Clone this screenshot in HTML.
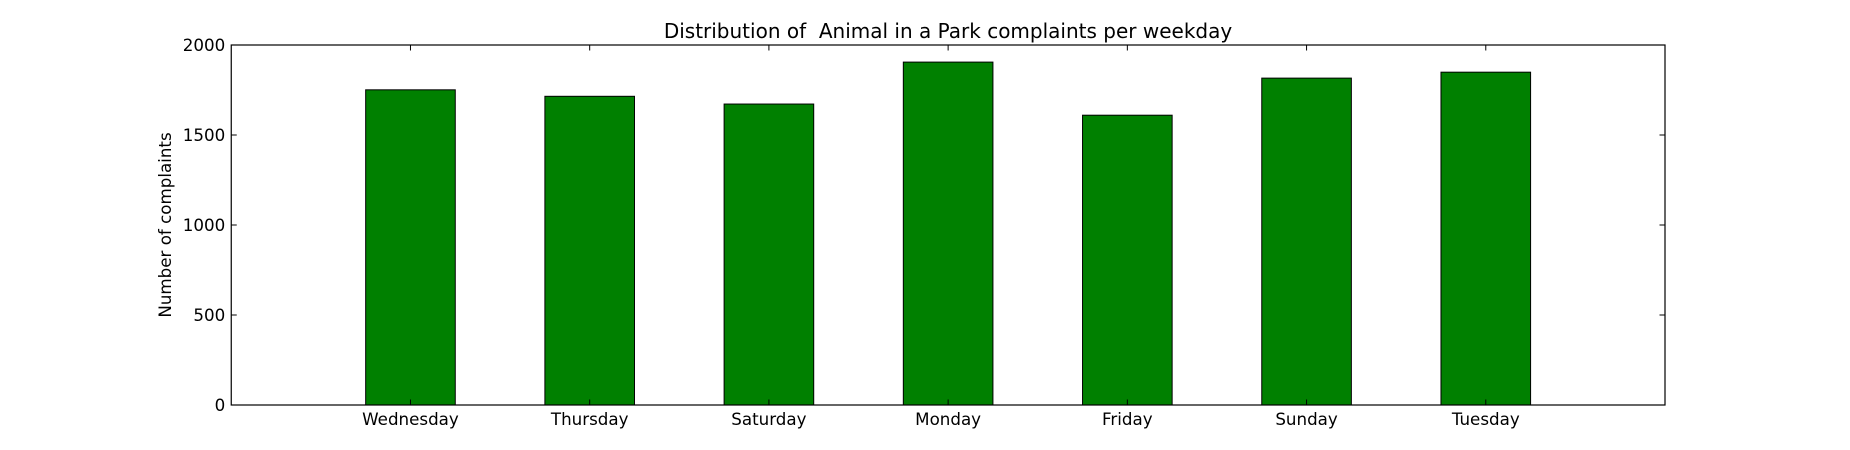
<!DOCTYPE html>
<html><head><meta charset="utf-8"><style>
html,body{margin:0;padding:0;background:#fff;}
svg{display:block;font-family:"DejaVu Sans","Liberation Sans",sans-serif;}
</style></head><body>
<svg id="chart" width="1850" height="450" viewBox="0 0 1850 450">
<text x="948" y="38" font-size="20" text-anchor="middle" xml:space="preserve">Distribution of  Animal in a Park complaints per weekday</text>
<g id="bars"></g>
<g id="ticks"></g>
<rect x="231.25" y="45" width="1433.75" height="360" fill="none" stroke="#000" stroke-width="1.2"/>
<text transform="translate(171,225) rotate(-90)" font-size="16.7" text-anchor="middle">Number of complaints</text>
</svg>
<script>
const categories = ["Wednesday","Thursday","Saturday","Monday","Friday","Sunday","Tuesday"];
const values = [1751,1715,1672,1905,1610,1816,1849];
const yTicks = [0,500,1000,1500,2000];
const L=231.25,R=1665,T=45,B=405;
const xMin=-1,xMax=7,yMax=2000;
const xs=v=>L+(v-xMin)/(xMax-xMin)*(R-L);
const ys=v=>B-v/yMax*(B-T);
const NS="http://www.w3.org/2000/svg";
const bars=document.getElementById('bars'), ticks=document.getElementById('ticks');
function mk(tag,attrs,parent){const e=document.createElementNS(NS,tag);for(const k in attrs)e.setAttribute(k,attrs[k]);parent.appendChild(e);return e;}
categories.forEach((c,i)=>{
  const r=mk('rect',{x:xs(i-0.25),y:ys(values[i]),width:xs(i+0.25)-xs(i-0.25),height:B-ys(values[i]),fill:'#008000',stroke:'#000','stroke-width':1},bars);
  
  
  const x=xs(i);
  mk('line',{x1:x,x2:x,y1:B,y2:B-5.5,stroke:'#000'},ticks);
  mk('line',{x1:x,x2:x,y1:T,y2:T+5.5,stroke:'#000'},ticks);
  const t=mk('text',{x:x,y:B+20,'font-size':16.7,'text-anchor':'middle'},ticks);
  t.textContent=c;
  
  
});
yTicks.forEach(v=>{
  const y=ys(v);
  mk('line',{x1:L,x2:L+5.5,y1:y,y2:y,stroke:'#000'},ticks);
  mk('line',{x1:R,x2:R-5.5,y1:y,y2:y,stroke:'#000'},ticks);
  const t=mk('text',{x:L-6,y:y+6,'font-size':16.7,'text-anchor':'end'},ticks);
  t.textContent=v;
  
  
});
</script>
</body></html>
